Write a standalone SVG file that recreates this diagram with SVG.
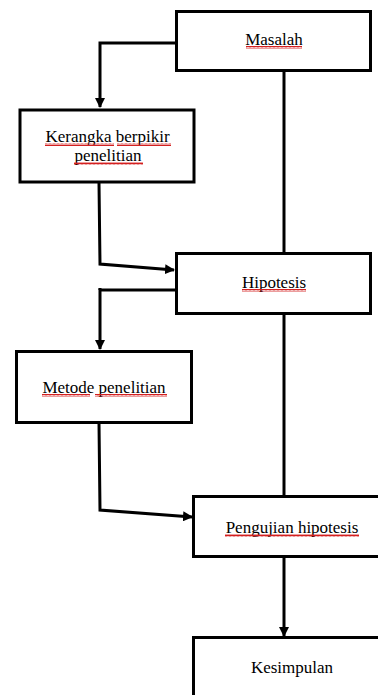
<svg xmlns="http://www.w3.org/2000/svg" width="378" height="695" viewBox="0 0 378 695">
<defs>
<style>
.box{fill:#fff;stroke:#000;stroke-width:3}
.ln{fill:none;stroke:#000;stroke-width:3}
.t{font-family:"Liberation Serif","Times New Roman",serif;font-size:17px;fill:#000;text-anchor:middle}
.sq{fill:none;stroke:#d42020;stroke-width:1}
</style>
<marker id="ah" markerWidth="10" markerHeight="10" refX="9" refY="5" orient="auto" markerUnits="userSpaceOnUse">
<path d="M0,0 L10,5 L0,10 Z" fill="#000"/>
</marker>
<pattern id="wave" width="4" height="3" patternUnits="userSpaceOnUse">
<path d="M0,2.5 L1,0.5 L2,2.5 L3,0.5 L4,2.5" class="sq"/>
</pattern>
</defs>
<rect width="378" height="695" fill="#fff"/>
<g id="connectors">
<path class="ln" d="M176,43 H100 V107" marker-end="url(#ah)"/>
<path class="ln" d="M284,70 V253"/>
<path class="ln" d="M99,183 L100,264 L174,270" marker-end="url(#ah)"/>
<path class="ln" d="M176,290 H100 V349" marker-end="url(#ah)"/>
<path class="ln" d="M100,288 V290"/>
<path class="ln" d="M284,314 V496"/>
<path class="ln" d="M99,423 L100,510 L192,517" marker-end="url(#ah)"/>
<path class="ln" d="M284,557 V636" marker-end="url(#ah)"/>
</g>
<g id="masalah">
<rect class="box" x="176.5" y="11.5" width="194" height="59"/>
<text class="t" x="274" y="45">Masalah</text>
<rect x="246" y="46" width="56" height="3" fill="url(#wave)"/>
</g>
<g id="kerangka">
<rect class="box" x="20" y="110" width="174" height="72"/>
<text class="t" x="107.5" y="142">Kerangka berpikir</text>
<text class="t" x="108" y="161">penelitian</text>
<rect x="45" y="143" width="69" height="3" fill="url(#wave)"/>
<rect x="117" y="143" width="54" height="3" fill="url(#wave)"/>
<rect x="74" y="162" width="69" height="3" fill="url(#wave)"/>
</g>
<g id="hipotesis">
<rect class="box" x="176.5" y="253.5" width="194" height="60"/>
<text class="t" x="274" y="288">Hipotesis</text>
<rect x="242" y="289" width="64" height="3" fill="url(#wave)"/>
</g>
<g id="metode">
<rect class="box" x="16.5" y="351.5" width="175" height="71"/>
<text class="t" x="104" y="393">Metode penelitian</text>
<rect x="42" y="394" width="48" height="3" fill="url(#wave)"/>
<rect x="95" y="394" width="72" height="3" fill="url(#wave)"/>
</g>
<g id="pengujian">
<rect class="box" x="193.5" y="496.5" width="200" height="60"/>
<text class="t" x="292" y="533">Pengujian hipotesis</text>
<rect x="225" y="534" width="134" height="3" fill="url(#wave)"/>
</g>
<g id="kesimpulan">
<rect class="box" x="193.5" y="637.5" width="200" height="70"/>
<text class="t" x="292" y="673">Kesimpulan</text>
</g>
</svg>
